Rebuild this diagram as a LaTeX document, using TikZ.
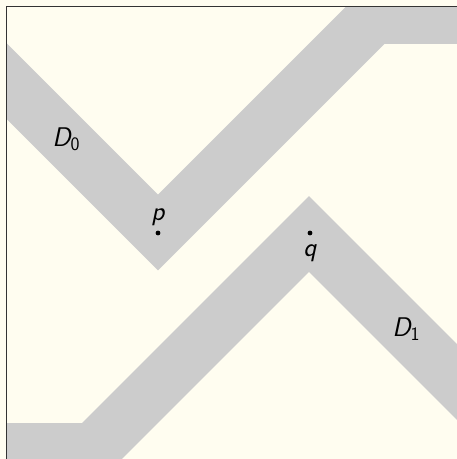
\documentclass[tikz,border=0pt]{standalone}
\definecolor{cream}{HTML}{FFFDF0}
\definecolor{bandgray}{HTML}{CCCCCC}
\definecolor{framegray}{HTML}{333333}
\newcommand{\subz}[1]{\raisebox{-4pt}{\fontsize{19}{22}\selectfont\upshape #1}}
\begin{document}
\begin{tikzpicture}[x=1pt,y=-1pt,
  bandline/.style={draw=bandgray,line width=53.7pt,line join=miter},
  lbl/.style={font=\fontsize{27}{32}\selectfont\sffamily\itshape, inner sep=0pt},
  dotmark/.style={fill=black}]
\fill[cream] (0,0) rectangle (457,459);
\useasboundingbox (0,0) rectangle (457,459);
\begin{scope}
  \clip (6.5,6.5) rectangle (480,480);
  \draw[bandline] (-40,34.5) -- (158,232.5) -- (373.5,17) -- (520,17);
  \draw[bandline] (-40,450) -- (93,450) -- (309,234) -- (520,445);
\end{scope}
\coordinate (fb) at (6.5,480);
\coordinate (fc) at (6.5,6.5);
\coordinate (fr) at (480,6.5);
\draw[framegray,line width=1.2pt] (fb) -- (fc) -- (fr);
\coordinate (p) at (158,233);
\coordinate (q) at (310,233);
\fill[dotmark] (p) circle (2.4);
\fill[dotmark] (q) circle (2.4);
\node[lbl] (plabel) at (158,217) {p};
\node[lbl] (qlabel) at (310,253) {q};
\node[lbl] (d0) at (66,139) {D\subz{0}};
\node[lbl] (d1) at (406,329) {D\subz{1}};
\end{tikzpicture}
\end{document}
